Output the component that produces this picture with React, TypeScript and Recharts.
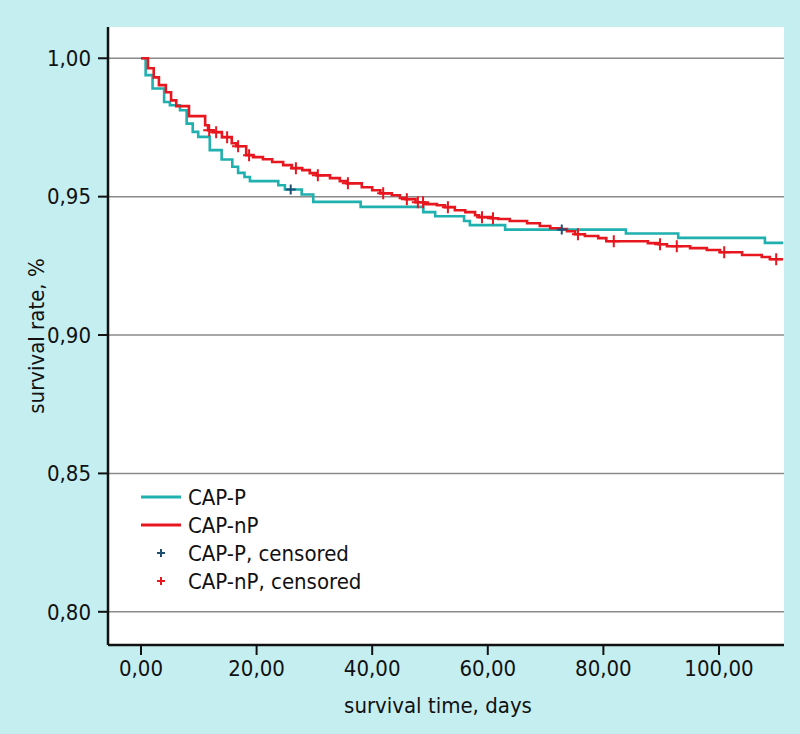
import { ComposedChart, Line, Scatter, XAxis, YAxis, CartesianGrid, Legend } from 'recharts'

const xTicks = [0, 20, 40, 60, 80, 100]
const yTicks = [0.8, 0.85, 0.9, 0.95, 1.0]

// Kaplan-Meier steps: [day, survival] (value holds until next step)
const capPSteps: [number, number][] = [
  [0, 1.0], [0.8, 0.9939], [2.0, 0.9891], [4.0, 0.9842], [5.0, 0.983], [6.75, 0.9812],
  [7.9, 0.9764], [8.95, 0.9734], [9.9, 0.9716], [11.9, 0.9668], [13.95, 0.9634],
  [15.8, 0.9608], [16.8, 0.9586], [17.9, 0.9571], [18.85, 0.9556], [23.75, 0.9541],
  [24.9, 0.9526], [27.8, 0.9508], [29.8, 0.9481], [38.0, 0.9463], [48.85, 0.9444],
  [50.9, 0.9429], [55.9, 0.9412], [56.9, 0.9397], [63.0, 0.9381], [83.9, 0.9367],
  [92.95, 0.9351], [107.95, 0.9333], [111.1, 0.9333],
]
const capPCensored: [number, number][] = [[25.9, 0.9526], [72.8, 0.9381]]

const capNPSteps: [number, number][] = [
  [0, 1.0], [1.2, 0.9964], [2.2, 0.9931], [3.1, 0.9903], [4.3, 0.9877], [5.2, 0.9848],
  [6.1, 0.9827], [8.3, 0.9791], [11.1, 0.9758], [11.6, 0.974], [12.5, 0.9733],
  [14.0, 0.9715], [15.7, 0.9693], [16.5, 0.9682], [18.2, 0.965], [19.4, 0.9643],
  [21.1, 0.9635], [22.7, 0.9625], [24.6, 0.9614], [26.1, 0.9603], [27.9, 0.9596],
  [29.2, 0.9585], [30.4, 0.9577], [32.7, 0.9567], [34.4, 0.9556], [35.6, 0.9548],
  [38.2, 0.9534], [40.0, 0.9523], [41.4, 0.9512], [43.4, 0.9505], [44.8, 0.9495],
  [45.8, 0.9491], [47.5, 0.948], [49.1, 0.9473], [51.2, 0.9469], [52.6, 0.9462],
  [54.3, 0.9451], [56.1, 0.9444], [57.8, 0.9433], [58.5, 0.9426], [60.5, 0.9422],
  [61.8, 0.9419], [63.8, 0.9412], [66.8, 0.9404], [69.0, 0.9394], [70.8, 0.9386],
  [72.5, 0.9383], [73.7, 0.9375], [75.1, 0.9364], [76.8, 0.9358], [79.1, 0.935],
  [80.5, 0.9339], [87.7, 0.9332], [89.5, 0.9328], [91.0, 0.9321], [95.0, 0.9314],
  [97.9, 0.9307], [100.2, 0.9299], [104.0, 0.9289], [107.4, 0.9282], [108.8, 0.9274],
  [111.1, 0.9274],
]
const capNPCensored: [number, number][] = [
  [11.8, 0.974], [13.0, 0.9733], [14.9, 0.9715], [16.8, 0.9682], [18.7, 0.965],
  [26.8, 0.9603], [30.6, 0.9577], [35.8, 0.9548], [41.9, 0.9512], [46.0, 0.9491],
  [47.9, 0.948], [48.8, 0.948], [53.1, 0.9462], [59.0, 0.9426], [60.9, 0.9422],
  [75.6, 0.9364], [81.8, 0.9339], [89.8, 0.9328], [92.7, 0.9321], [100.9, 0.9299],
  [109.9, 0.9274],
]

const TEAL = '#1fb0af'
const RED = '#e8161f'
const NAVY = '#1d4f74'
const BG = '#c5eef1'
const FONT = "'DejaVu Sans Condensed', 'Liberation Sans Narrow', sans-serif"

const rows = (pts: [number, number][]) => pts.map(([t, s]) => ({ t, s }))

const fmt = (v: number) => v.toFixed(2).replace('.', ',')

const cross = (color: string, size: number) => (props: any) => {
  const { cx, cy } = props
  if (cx == null || cy == null) return <g />
  return (
    <path
      d={`M${cx - size},${cy}H${cx + size}M${cx},${cy - size}V${cy + size}`}
      stroke={color}
      strokeWidth={2}
      fill="none"
    />
  )
}

const legendItems = [
  { label: 'CAP-P', color: TEAL, kind: 'line' },
  { label: 'CAP-nP', color: RED, kind: 'line' },
  { label: 'CAP-P, censored', color: NAVY, kind: 'cross' },
  { label: 'CAP-nP, censored', color: RED, kind: 'cross' },
]

function LegendBox() {
  return (
    <div style={{ fontFamily: FONT, fontSize: 22, color: '#111' }}>
      {legendItems.map((item) => (
        <div key={item.label} style={{ display: 'flex', alignItems: 'center', height: 28 }}>
          <svg width={47} height={28}>
            {item.kind === 'line' ? (
              <line x1={0} x2={40} y1={14} y2={14} stroke={item.color} strokeWidth={3} />
            ) : (
              <path d="M16,14H24M20,10V18" stroke={item.color} strokeWidth={2} />
            )}
          </svg>
          <span>{item.label}</span>
        </div>
      ))}
    </div>
  )
}

export default function App() {
  return (
    <div style={{ position: 'absolute', left: 0, top: 0, width: 800, height: 734, background: BG }}>
      <ComposedChart width={800} height={734} margin={{ top: 27, right: 16, bottom: 0, left: 8 }}>
        <CartesianGrid
          vertical={false}
          horizontalValues={yTicks}
          fill="#ffffff"
          fillOpacity={1}
          stroke="#8a8a8a"
          strokeWidth={1.5}
        />
        <XAxis
          type="number"
          dataKey="t"
          domain={[-5.71, 111.25]}
          allowDataOverflow
          ticks={xTicks}
          tickFormatter={fmt}
          height={89}
          tickSize={10}
          tickMargin={5}
          axisLine={{ stroke: '#111', strokeWidth: 2.5 }}
          tickLine={{ stroke: '#111', strokeWidth: 2 }}
          tick={{ fill: '#111', fontSize: 22, fontFamily: FONT }}
          label={({ viewBox }: any) => (
            <text
              x={viewBox.x + viewBox.width / 2 - 8}
              y={713}
              textAnchor="middle"
              fill="#111"
              fontSize={22}
              fontFamily={FONT}
            >
              survival time, days
            </text>
          )}
        />
        <YAxis
          type="number"
          dataKey="s"
          domain={[0.788, 1.0113]}
          allowDataOverflow
          ticks={yTicks}
          tickFormatter={fmt}
          width={100}
          tickSize={10}
          tickMargin={7}
          axisLine={{ stroke: '#111', strokeWidth: 2.5 }}
          tickLine={{ stroke: '#111', strokeWidth: 2 }}
          tick={{ fill: '#111', fontSize: 22, fontFamily: FONT }}
          label={({ viewBox }: any) => {
            const x = viewBox.x + 36
            const y = viewBox.y + viewBox.height / 2
            return (
              <text
                x={x}
                y={y}
                transform={`rotate(-90, ${x}, ${y})`}
                textAnchor="middle"
                fill="#111"
                fontSize={22}
                fontFamily={FONT}
              >
                survival rate, %
              </text>
            )
          }}
        />
        <Line
          data={rows(capPSteps)}
          dataKey="s"
          type="stepAfter"
          stroke={TEAL}
          strokeWidth={2.6}
          dot={false}
          activeDot={false}
          isAnimationActive={false}
          name="CAP-P"
        />
        <Line
          data={rows(capNPSteps)}
          dataKey="s"
          type="stepAfter"
          stroke={RED}
          strokeWidth={2.6}
          dot={false}
          activeDot={false}
          isAnimationActive={false}
          name="CAP-nP"
        />
        <Scatter
          data={rows(capPCensored)}
          dataKey="s"
          shape={cross(NAVY, 5)}
          isAnimationActive={false}
          name="CAP-P, censored"
        />
        <Scatter
          data={rows(capNPCensored)}
          dataKey="s"
          shape={cross(RED, 6)}
          isAnimationActive={false}
          name="CAP-nP, censored"
        />
        <Legend
          layout="vertical"
          align="center"
          verticalAlign="middle"
          content={() => <LegendBox />}
          wrapperStyle={{ left: 141, top: 483, width: 300 }}
        />
      </ComposedChart>
    </div>
  )
}
